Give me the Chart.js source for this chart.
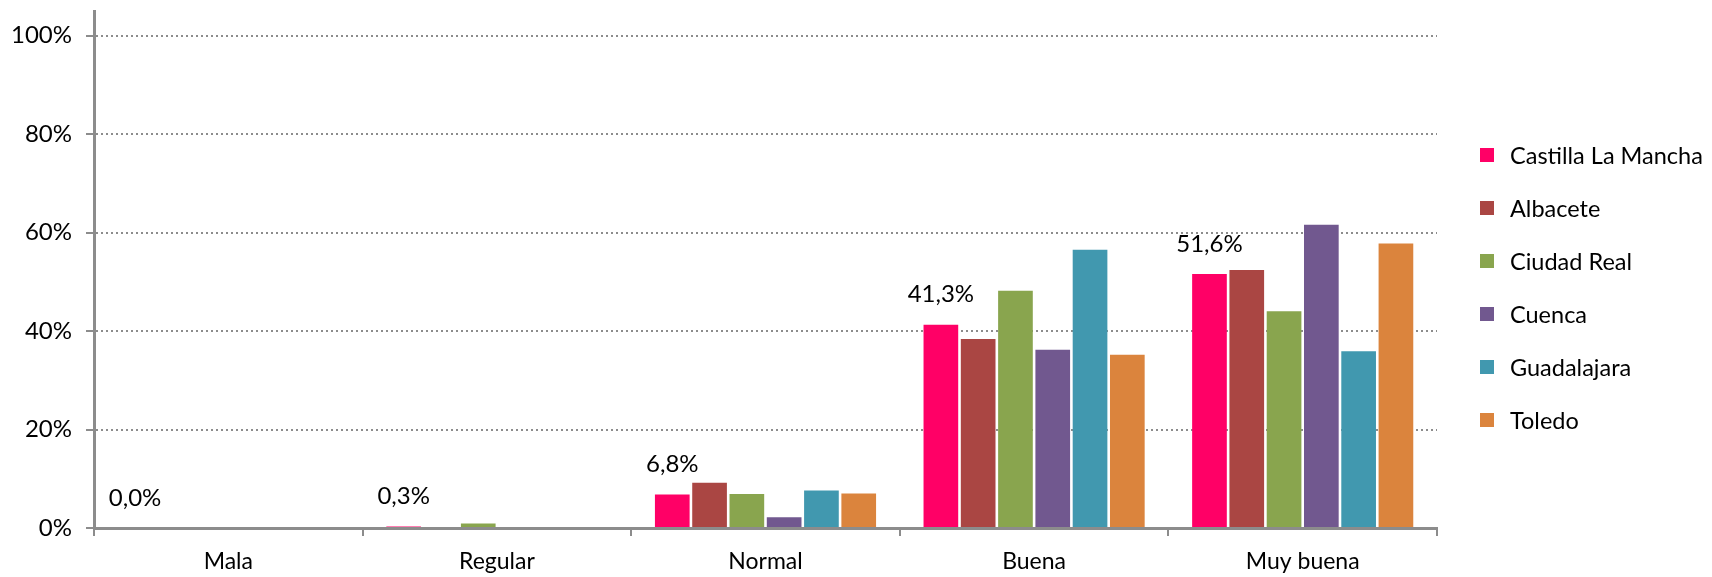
<!DOCTYPE html>
<html>
<head>
<meta charset="utf-8">
<script src="https://cdn.jsdelivr.net/npm/chart.js@4/dist/chart.umd.min.js"></script>
<style>
  html, body { margin: 0; padding: 0; background: #fff; }
  #wrap { position: relative; width: 1712px; height: 577px; }
  #legend { position: absolute; left: 1480px; top: 0; font-family: Lato, sans-serif; font-size: 23.5px; color: #000; }
  #legend div { position: absolute; white-space: nowrap; display: flex; align-items: center; }
  #legend span.box { display: inline-block; width: 14px; height: 14px; margin-right: 16px; }
</style>
</head>
<body>
<div id="wrap">
  <canvas id="chart" width="1712" height="577"></canvas>
  <div id="legend"></div>
</div>
<script>
const categories = ['Mala', 'Regular', 'Normal', 'Buena', 'Muy buena'];
const seriesNames = ['Castilla La Mancha', 'Albacete', 'Ciudad Real', 'Cuenca', 'Guadalajara', 'Toledo'];
const castillaLaMancha = [0.0, 0.3, 6.8, 41.3, 51.6];
const albacete = [0, 0, 9.2, 38.4, 52.4];
const ciudadReal = [0, 0.9, 6.9, 48.2, 44.0];
const cuenca = [0, 0, 2.2, 36.2, 61.6];
const guadalajara = [0, 0, 7.6, 56.5, 35.9];
const toledo = [0, 0, 7.0, 35.2, 57.8];
const yTicks = [0, 20, 40, 60, 80, 100];

const colors = ['#FF0066', '#AA4643', '#89A54E', '#71588F', '#4198AF', '#DB843D'];
const allSeries = [castillaLaMancha, albacete, ciudadReal, cuenca, guadalajara, toledo];

const FONT = 'Lato, sans-serif';
const GREY = '#8c8c8c';

// labels only on the first series (Castilla La Mancha)
const barLabels = {
  id: 'barLabels',
  afterDatasetsDraw(chart) {
    const ctx = chart.ctx;
    const meta = chart.getDatasetMeta(0);
    ctx.save();
    ctx.font = '24px ' + FONT;
    ctx.fillStyle = '#000';
    ctx.textAlign = 'center';
    ctx.textBaseline = 'middle';
    meta.data.forEach((bar, i) => {
      const v = castillaLaMancha[i];
      ctx.fillText(v.toFixed(1).replace('.', ',') + '%', bar.x, bar.y - 30);
    });
    ctx.restore();
  }
};

new Chart(document.getElementById('chart').getContext('2d'), {
  type: 'bar',
  data: {
    labels: categories,
    datasets: seriesNames.map((name, i) => ({
      label: name,
      data: allSeries[i],
      backgroundColor: colors[i],
      borderWidth: 0,
      categoryPercentage: 0.833,
      barPercentage: 0.93
    }))
  },
  options: {
    responsive: false,
    animation: false,
    layout: { padding: { top: 11, right: 275, left: 0, bottom: 0 } },
    plugins: {
      legend: { display: false },
      tooltip: { enabled: false }
    },
    scales: {
      x: {
        grid: {
          offset: true,
          drawOnChartArea: false,
          drawTicks: true,
          tickLength: 8,
          color: GREY,
          lineWidth: 2
        },
        border: { color: GREY, width: 3 },
        ticks: { color: '#000', font: { family: FONT, size: 23 }, padding: 12 },
        afterFit(scale) { scale.height = 49; scale.paddingLeft = 0; scale.paddingRight = 0; }
      },
      y: {
        min: 0,
        max: 105,
        afterBuildTicks(scale) {
          scale.ticks = yTicks.map(v => ({ value: v }));
        },
        grid: {
          color: GREY,
          lineWidth: 2,
          tickBorderDash: [],
          tickLength: 8,
          tickColor: GREY,
          tickWidth: 2
        },
        border: { color: GREY, width: 3, dash: [2, 3] },
        ticks: {
          color: '#000',
          font: { family: FONT, size: 24 },
          padding: 14,
          callback: v => v + '%'
        },
        afterFit(scale) { scale.width = 94; scale.paddingTop = 0; scale.paddingBottom = 0; }
      }
    }
  },
  plugins: [barLabels]
});

const legend = document.getElementById('legend');
const rowY = [155, 208, 261, 314, 367, 420];
seriesNames.forEach((name, i) => {
  const row = document.createElement('div');
  row.style.top = (rowY[i] - 14) + 'px';
  row.style.height = '28px';
  row.innerHTML = '<span class="box" style="background:' + colors[i] + '"></span>' + name;
  legend.appendChild(row);
});
</script>
</body>
</html>
